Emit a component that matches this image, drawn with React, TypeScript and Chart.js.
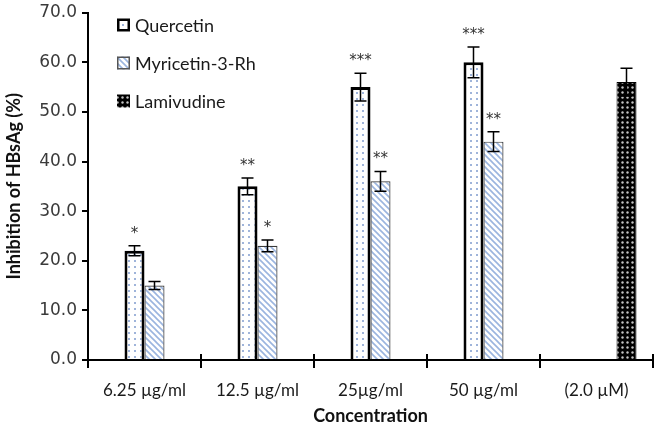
import React, { useEffect, useRef } from 'react';
import { Chart, registerables } from 'chart.js';
Chart.register(...registerables);

const categories = ['6.25 µg/ml', '12.5 µg/ml', '25µg/ml', '50 µg/ml', '(2.0 µM)'];
const quercetin = [22, 35, 55, 60, null];
const quercetinErr = [1, 1.7, 2.8, 3.1, null];
const quercetinSig = ['*', '**', '***', '***', ''];
const myricetin = [15, 23, 36, 44, null];
const myricetinErr = [0.8, 1.2, 2, 2, null];
const myricetinSig = ['', '*', '**', '**', ''];
const lamivudine = [null, null, null, null, 56];
const lamivudineErr = [null, null, null, null, 2.8];
const legendLabels = ['Quercetin', 'Myricetin-3-Rh', 'Lamivudine'];
const yMin = 0;
const yMax = 70;
const yStep = 10;

function makePattern(size: number, draw: (ctx: CanvasRenderingContext2D) => void) {
  const c = document.createElement('canvas');
  c.width = size;
  c.height = size;
  const ctx = c.getContext('2d')!;
  draw(ctx);
  return ctx.createPattern(c, 'repeat')!;
}

export default function App() {
  const ref = useRef<HTMLCanvasElement | null>(null);

  useEffect(() => {
    if (!ref.current) return;
    const dotPattern = makePattern(6, (ctx) => {
      ctx.fillStyle = '#ffffff';
      ctx.fillRect(0, 0, 6, 6);
      ctx.fillStyle = '#9fb4da';
      ctx.fillRect(2, 2, 2, 2);
    });
    const hatchPattern = makePattern(6, (ctx) => {
      ctx.fillStyle = '#ffffff';
      ctx.fillRect(0, 0, 6, 6);
      ctx.strokeStyle = '#9bb5df';
      ctx.lineWidth = 1.6;
      ctx.beginPath();
      ctx.moveTo(-1, -1);
      ctx.lineTo(7, 7);
      ctx.moveTo(-4, 2);
      ctx.lineTo(4, 10);
      ctx.moveTo(2, -4);
      ctx.lineTo(10, 4);
      ctx.stroke();
    });
    const blackDotPattern = makePattern(5, (ctx) => {
      ctx.fillStyle = '#000000';
      ctx.fillRect(0, 0, 5, 5);
      ctx.fillStyle = '#c4c4c4';
      ctx.beginPath();
      ctx.arc(2.5, 2.5, 1.2, 0, Math.PI * 2);
      ctx.fill();
    });

    const series = [
      { values: quercetin, err: quercetinErr, sig: quercetinSig },
      { values: myricetin, err: myricetinErr, sig: myricetinSig },
      { values: lamivudine, err: lamivudineErr, sig: ['', '', '', '', ''] },
    ];

    const extras = {
      id: 'extras',
      afterDatasetsDraw(chart: any) {
        const ctx = chart.ctx as CanvasRenderingContext2D;
        const y = chart.scales.y;
        const area = chart.chartArea;
        ctx.save();
        ctx.strokeStyle = '#000';
        ctx.lineWidth = 2;
        const n = categories.length;
        for (let i = 0; i <= n; i++) {
          const px = Math.round(area.left + ((area.right - area.left) * i) / n);
          ctx.beginPath();
          ctx.moveTo(px, area.bottom - 6);
          ctx.lineTo(px, area.bottom + 8);
          ctx.stroke();
        }
        series.forEach((s, si) => {
          const meta = chart.getDatasetMeta(si + 1);
          s.values.forEach((v, i) => {
            if (v == null) return;
            const e = s.err[i] as number;
            const bx = meta.data[i].x;
            const top = y.getPixelForValue(v + e);
            const bot = y.getPixelForValue(v - e);
            ctx.strokeStyle = '#000';
            ctx.lineWidth = 1.5;
            ctx.beginPath();
            ctx.moveTo(bx, top);
            ctx.lineTo(bx, bot);
            ctx.moveTo(bx - 6, top);
            ctx.lineTo(bx + 6, top);
            ctx.moveTo(bx - 6, bot);
            ctx.lineTo(bx + 6, bot);
            ctx.stroke();
            if (s.sig[i]) {
              ctx.fillStyle = '#333';
              ctx.font = '15px "DejaVu Sans"';
              ctx.textAlign = 'center';
              ctx.textBaseline = 'middle';
              ctx.fillText(s.sig[i], bx, top - 12);
            }
          });
        });
        ctx.restore();
      },
      afterDraw(chart: any) {
        const ctx = chart.ctx as CanvasRenderingContext2D;
        ctx.save();
        const boxX = 117;
        const ys = [25, 63, 101];
        const size = 13;
        ctx.fillStyle = '#fff';
        ctx.fillRect(boxX, ys[0] - size / 2, size, size);
        ctx.fillStyle = '#9fb4da';
        ctx.fillRect(boxX + 5, ys[0] - 1, 2, 2);
        ctx.strokeStyle = '#000';
        ctx.lineWidth = 2.5;
        ctx.strokeRect(boxX + 1.25, ys[0] - size / 2 + 1.25, size - 2.5, size - 2.5);
        ctx.fillStyle = hatchPattern;
        ctx.fillRect(boxX, ys[1] - size / 2, size, size);
        ctx.strokeStyle = '#555';
        ctx.lineWidth = 1.5;
        ctx.strokeRect(boxX + 0.75, ys[1] - size / 2 + 0.75, size - 1.5, size - 1.5);
        ctx.fillStyle = blackDotPattern;
        ctx.fillRect(boxX, ys[2] - size / 2, size, size);
        ctx.font = '18px Lato, "Open Sans", sans-serif';
        ctx.fillStyle = '#1a1a1a';
        ctx.textAlign = 'left';
        ctx.textBaseline = 'middle';
        legendLabels.forEach((t, i) => ctx.fillText(t, boxX + size + 5, ys[i] + 1));
        ctx.restore();
      },
    };

    const chart = new Chart(ref.current, {
      type: 'bar',
      data: {
        labels: categories,
        datasets: [
          { label: '', data: [null, null, null, null, null] as any, backgroundColor: 'transparent' },
          {
            label: legendLabels[0],
            data: quercetin as any,
            backgroundColor: dotPattern as any,
            borderColor: '#000',
            borderWidth: 3,
          },
          {
            label: legendLabels[1],
            data: myricetin as any,
            backgroundColor: hatchPattern as any,
            borderColor: '#3a3a3a',
            borderWidth: 1.2,
          },
          {
            label: legendLabels[2],
            data: lamivudine as any,
            backgroundColor: blackDotPattern as any,
            borderColor: '#000',
            borderWidth: 1,
          },
        ],
      },
      options: {
        responsive: false,
        animation: false,
        layout: { padding: { top: 10, right: 8, left: 0, bottom: 0 } },
        datasets: { bar: { categoryPercentage: 0.708, barPercentage: 1 } } as any,
        plugins: { legend: { display: false }, tooltip: { enabled: false } },
        scales: {
          x: {
            grid: { display: false },
            border: { display: true, color: '#000', width: 2 },
            ticks: {
              padding: 12,
              color: '#1a1a1a',
              font: { family: 'Lato, "Open Sans", sans-serif', size: 17 },
            },
            title: {
              display: true,
              text: 'Concentration',
              color: '#111',
              font: { family: 'Lato, "Open Sans", sans-serif', size: 18, weight: 'bold' },
              padding: { top: 4, bottom: 3 },
            },
            afterFit(scale: any) {
              scale.height = 70;
            },
          },
          y: {
            min: yMin,
            max: yMax,
            grid: { display: true, drawOnChartArea: false, drawTicks: true, tickLength: 6, color: '#000', lineWidth: 2 },
            border: { display: true, color: '#000', width: 2 },
            ticks: {
              stepSize: yStep,
              padding: 5,
              color: '#3a3a3a',
              font: { family: '"DejaVu Sans"', size: 17, lineHeight: 0.9 },
              callback: (v: any) => Number(v).toFixed(1),
            },
            title: {
              display: true,
              text: 'Inhibition of HBsAg (%)',
              color: '#111',
              font: { family: 'Lato, "Open Sans", sans-serif', size: 18, weight: 'bold' },
              padding: { top: 3, bottom: 4 },
            },
            afterFit(scale: any) {
              scale.width = 88;
            },
          },
        },
      },
      plugins: [extras],
    });
    return () => chart.destroy();
  }, []);

  return (
    <div style={{ position: 'absolute', left: 0, top: 0, width: 661, height: 430, background: '#fff' }}>
      <canvas ref={ref} width={661} height={430} />
    </div>
  );
}
